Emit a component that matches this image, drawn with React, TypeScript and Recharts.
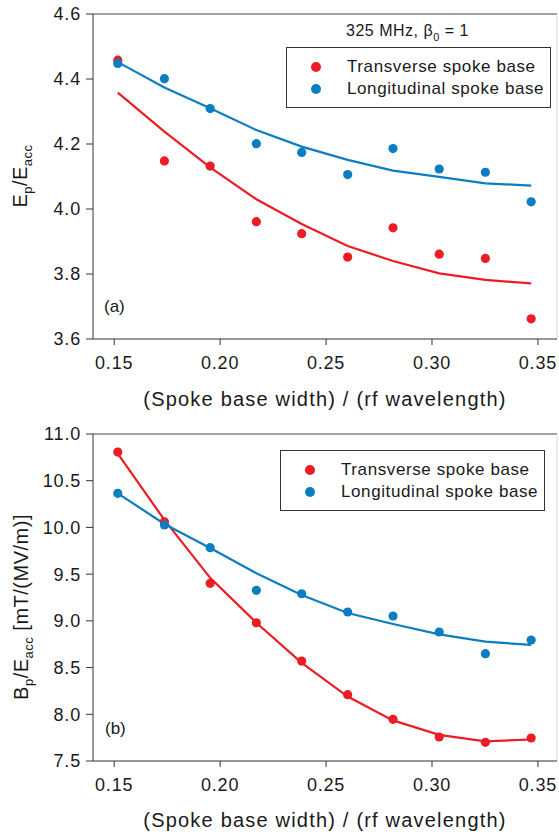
import React from 'react';
import { ComposedChart, Line, Scatter, XAxis, YAxis, ReferenceLine } from 'recharts';

// (spoke base width) / (rf wavelength)
const widthRatio = [0.1517, 0.1737, 0.1953, 0.2171, 0.2385, 0.2602, 0.2816, 0.3034, 0.3252, 0.3468];

// Ep/Eacc, panel (a)
const epTransversePts = [4.458, 4.148, 4.132, 3.961, 3.924, 3.852, 3.942, 3.861, 3.848, 3.662];
const epLongitudinalPts = [4.448, 4.401, 4.309, 4.201, 4.174, 4.106, 4.186, 4.123, 4.113, 4.022];
const epTransverseFit = [4.358, 4.238, 4.128, 4.03, 3.954, 3.886, 3.84, 3.802, 3.782, 3.771];
const epLongitudinalFit = [4.452, 4.374, 4.31, 4.243, 4.192, 4.151, 4.118, 4.099, 4.079, 4.072];

// Bp/Eacc, panel (b)
const bpTransversePts = [10.807, 10.061, 9.402, 8.98, 8.57, 8.21, 7.946, 7.757, 7.7, 7.746];
const bpLongitudinalPts = [10.365, 10.026, 9.783, 9.327, 9.29, 9.095, 9.052, 8.881, 8.649, 8.795];
const bpTransverseFit = [10.79, 10.08, 9.46, 8.98, 8.55, 8.19, 7.935, 7.78, 7.71, 7.73];
const bpLongitudinalFit = [10.365, 10.037, 9.78, 9.509, 9.277, 9.084, 8.966, 8.856, 8.777, 8.742];

const xTicks = [0.15, 0.2, 0.25, 0.3, 0.35];
const epTicks = [3.6, 3.8, 4.0, 4.2, 4.4, 4.6];
const bpTicks = [7.5, 8.0, 8.5, 9.0, 9.5, 10.0, 10.5, 11.0];

const RED = '#ec1c24';
const BLUE = '#0b7dc1';
const FONT = '"Liberation Sans", Arial, sans-serif';
const X_MAX = 0.359;

const build = (tp: number[], lp: number[], tf: number[], lf: number[]) =>
  widthRatio.map((x, i) => ({ x, tp: tp[i], lp: lp[i], tf: tf[i], lf: lf[i] }));

const epData = build(epTransversePts, epLongitudinalPts, epTransverseFit, epLongitudinalFit);
const bpData = build(bpTransversePts, bpLongitudinalPts, bpTransverseFit, bpLongitudinalFit);

const dot = (color: string) => (p: any) => <circle cx={p.cx} cy={p.cy} r={4.6} fill={color} />;

const Sub = ({ children }: { children: React.ReactNode }) => (
  <span style={{ fontSize: 11, position: 'relative', top: 5 }}>{children}</span>
);

const LegendBox = ({ left, top }: { left: number; top: number }) => (
  <div
    style={{
      position: 'absolute', left, top, width: 263, height: 59, border: '1px solid #333',
      background: '#fff', fontFamily: FONT, fontSize: 17, letterSpacing: 0.6, color: '#1a1a1a',
    }}
  >
    {[['Transverse spoke base', RED], ['Longitudinal spoke base', BLUE]].map(([t, c], i) => (
      <div key={t} style={{ position: 'absolute', left: 0, top: 8 + i * 22, height: 22, width: 262, lineHeight: '22px' }}>
        <span style={{ position: 'absolute', left: 24, top: 6, width: 10, height: 10, borderRadius: 5, background: c }} />
        <span style={{ position: 'absolute', left: 60, top: 0 }}>{t}</span>
      </div>
    ))}
  </div>
);

const yLabel = (cx: number, cy: number, main: string, sub1: string, mid: string, sub2: string, tail: string) => () => (
  <text
    transform={`translate(${cx},${cy}) rotate(-90)`}
    textAnchor="middle"
    fontFamily={FONT}
    fontSize={20}
    fill="#1a1a1a"
    letterSpacing={0.5}
  >
    {main}
    <tspan fontSize={13} dy={5}>{sub1}</tspan>
    <tspan dy={-5}>{mid}</tspan>
    <tspan fontSize={13} dy={5}>{sub2}</tspan>
    <tspan dy={-5}>{tail}</tspan>
  </text>
);

const xLabel = (y: number) => () => (
  <text x={325} y={y} textAnchor="middle" fontFamily={FONT} fontSize={20} fill="#1a1a1a" letterSpacing={1.2}>
    (Spoke base width) / (rf wavelength)
  </text>
);

interface PanelProps {
  data: any[];
  height: number;
  bottom: number;
  domain: [number, number];
  ticks: number[];
  digits: number;
  label: () => React.ReactElement;
  xLabelY: number;
}

const Panel = ({ data, height, bottom, domain, ticks, digits, label, xLabelY }: PanelProps) => {
  const tickStyle = { fontFamily: FONT, fontSize: 18, fill: '#1a1a1a', letterSpacing: 0.8 };
  return (
    <ComposedChart width={559} height={height} data={data} margin={{ top: 14, right: 2, bottom, left: 0 }}>
      <XAxis
        dataKey="x"
        type="number"
        domain={[0.14, X_MAX]}
        ticks={xTicks}
        tickFormatter={(v: number) => v.toFixed(2)}
        allowDataOverflow
        height={60}
        tickSize={6}
        tickMargin={11}
        stroke="#333"
        tick={tickStyle}
        label={xLabel(xLabelY)}
      />
      <YAxis
        type="number"
        domain={domain}
        ticks={ticks}
        tickFormatter={(v: number) => v.toFixed(digits)}
        width={93}
        tickSize={7}
        tickMargin={5}
        stroke="#333"
        tick={tickStyle}
        label={label}
      />
      <ReferenceLine y={domain[1]} stroke="#444" strokeWidth={1} />
      <ReferenceLine x={X_MAX} stroke="#d8d8d8" strokeWidth={1} />
      <Line dataKey="tf" type="linear" stroke={RED} strokeWidth={2.2} dot={false} isAnimationActive={false} />
      <Line dataKey="lf" type="linear" stroke={BLUE} strokeWidth={2.2} dot={false} isAnimationActive={false} />
      <Scatter dataKey="tp" fill={RED} shape={dot(RED)} isAnimationActive={false} />
      <Scatter dataKey="lp" fill={BLUE} shape={dot(BLUE)} isAnimationActive={false} />
    </ComposedChart>
  );
};

export default function App() {
  return (
    <div style={{ position: 'absolute', left: 0, top: 0, width: 559, height: 836, background: '#fff' }}>
      <div style={{ position: 'absolute', left: 0, top: 0 }}>
        <Panel
          data={epData}
          height={420}
          bottom={21}
          domain={[3.6, 4.6]}
          ticks={epTicks}
          digits={1}
          label={yLabel(27, 176, 'E', 'p', '/E', 'acc', '')}
          xLabelY={406}
        />
      </div>
      <div style={{ position: 'absolute', left: 0, top: 420 }}>
        <Panel
          data={bpData}
          height={416}
          bottom={15}
          domain={[7.5, 11.0]}
          ticks={bpTicks}
          digits={1}
          label={yLabel(28, 187, 'B', 'p', '/E', 'acc', ' [mT/(MV/m)]')}
          xLabelY={407}
        />
      </div>
      <div style={{ position: 'absolute', left: 346, top: 22, fontFamily: FONT, fontSize: 16, color: '#1a1a1a', letterSpacing: 0.5 }}>
        325 MHz, β<Sub>0</Sub> = 1
      </div>
      <LegendBox left={286} top={47} />
      <LegendBox left={280} top={450} />
      <div style={{ position: 'absolute', left: 104, top: 297, fontFamily: FONT, fontSize: 17, color: '#1a1a1a' }}>(a)</div>
      <div style={{ position: 'absolute', left: 105, top: 719, fontFamily: FONT, fontSize: 17, color: '#1a1a1a' }}>(b)</div>
    </div>
  );
}
